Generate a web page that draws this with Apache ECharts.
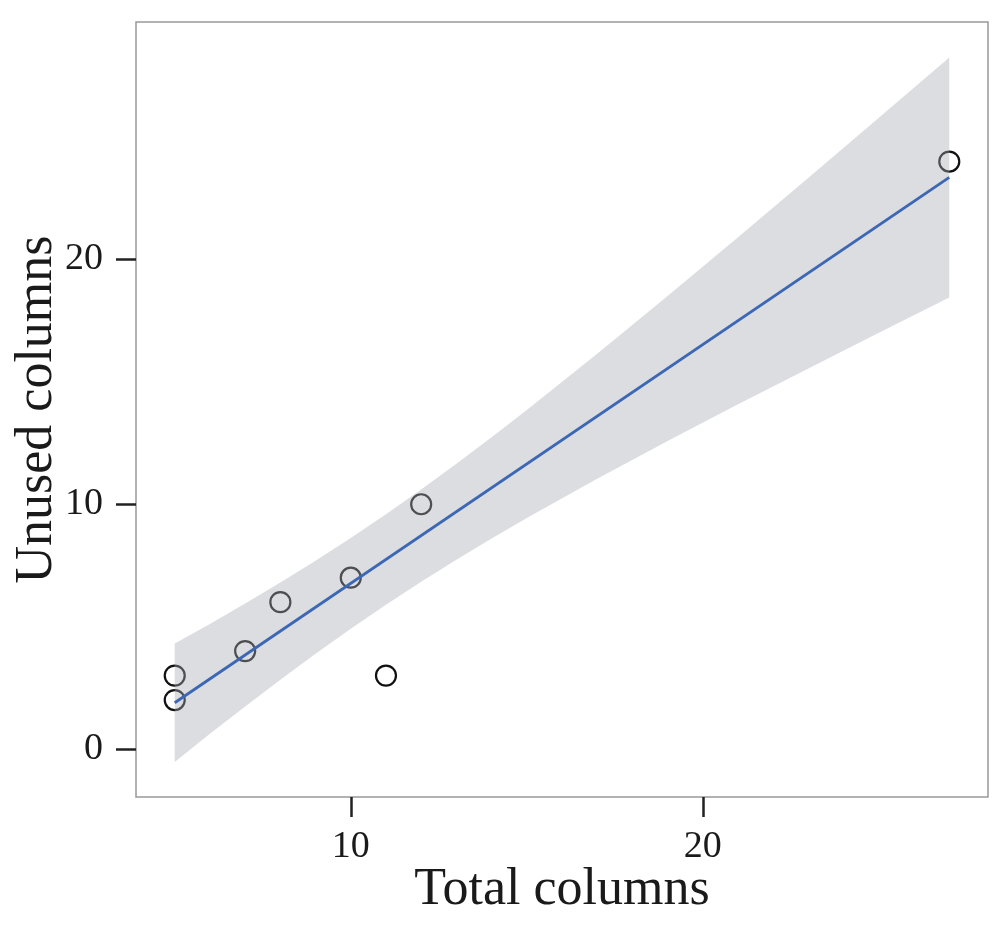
<!DOCTYPE html>
<html>
<head>
<meta charset="utf-8">
<script src="https://cdn.jsdelivr.net/npm/echarts@6/dist/echarts.min.js"></script>
<style>
  html, body { margin: 0; padding: 0; background: #fff; }
  #main { width: 1000px; height: 926px; }
</style>
</head>
<body>
<div id="main"></div>
<script>
// observed points
const totalCols = [5, 5, 7, 8, 10, 11, 12, 27];
const unusedCols = [3, 2, 4, 6, 7, 3, 10, 24];

// fitted line, read at its two ends
const fitX = [5, 27];
const fitY = [1.89, 23.35];

// confidence band
const bandX = [5, 6, 7, 8, 9, 10, 11, 12, 13, 14, 15, 17, 19, 21, 23, 25, 27];
const bandLow = [-0.53, 0.62, 1.74, 2.83, 3.89, 4.91, 5.89, 6.83, 7.73, 8.60, 9.44, 11.04, 12.58, 14.08, 15.55, 17.01, 18.45];
const bandHigh = [4.31, 5.11, 5.94, 6.80, 7.69, 8.62, 9.59, 10.60, 11.65, 12.74, 13.85, 16.15, 18.51, 20.91, 23.34, 25.79, 28.25];

const xTicks = [10, 20];
const yTicks = [0, 10, 20];

const FONT = 'Liberation Serif';
const myChart = echarts.init(document.getElementById('main'));

const bandData = bandX.map((x, i) => [x, bandLow[i], bandHigh[i]]);

const option = {
    animation: false,
    backgroundColor: '#fff',
    grid: {
        left: 136, right: 12, top: 22, bottom: 129,
        outerBoundsMode: 'none',
        containLabel: false,
        show: true,
        borderColor: '#999',
        borderWidth: 1.5,
        backgroundColor: 'transparent'
    },
    xAxis: {
        type: 'value',
        min: 3.9,
        max: 28.1,
        name: 'Total columns',
        nameLocation: 'middle',
        nameGap: 67,
        nameMoveOverlap: false,
        nameTextStyle: {fontFamily: FONT, fontSize: 52, color: '#1a1a1a'},
        axisLine: {show: false, onZero: false},
        splitLine: {show: false},
        axisTick: {show: true, length: 20, customValues: xTicks, lineStyle: {color: '#222', width: 2.5}},
        axisLabel: {customValues: xTicks, margin: 31, fontFamily: FONT, fontSize: 38, color: '#1a1a1a'}
    },
    yAxis: {
        type: 'value',
        min: -1.96,
        max: 29.7,
        name: 'Unused columns',
        nameLocation: 'middle',
        nameGap: 73,
        nameMoveOverlap: false,
        nameTextStyle: {fontFamily: FONT, fontSize: 52, color: '#1a1a1a'},
        axisLine: {show: false, onZero: false},
        splitLine: {show: false},
        axisTick: {show: true, length: 20, customValues: yTicks, lineStyle: {color: '#222', width: 2.5}},
        axisLabel: {customValues: yTicks, margin: 33, fontFamily: FONT, fontSize: 38, color: '#1a1a1a'}
    },
    series: [
        {
            type: 'scatter',
            data: totalCols.map((x, i) => [x, unusedCols[i]]),
            symbol: 'circle',
            symbolSize: 20,
            itemStyle: {color: 'transparent', borderColor: '#111', borderWidth: 2.2, opacity: 1},
            silent: true,
            z: 2
        },
        {
            type: 'custom',
            data: bandData,
            encode: {x: 0, y: [1, 2]},
            silent: true,
            z: 3,
            renderItem: (params, api) => {
                if (params.dataIndex !== 0) return null;
                const pts = [];
                for (let i = 0; i < bandData.length; i++) {
                    pts.push(api.coord([bandData[i][0], bandData[i][2]]));
                }
                for (let i = bandData.length - 1; i >= 0; i--) {
                    pts.push(api.coord([bandData[i][0], bandData[i][1]]));
                }
                return {
                    type: 'polygon',
                    shape: {points: pts},
                    style: {fill: 'rgba(168,170,178,0.4)'}
                };
            }
        },
        {
            type: 'line',
            data: fitX.map((x, i) => [x, fitY[i]]),
            showSymbol: false,
            lineStyle: {color: '#3b67b5', width: 2.8},
            silent: true,
            z: 4
        }
    ]
};

option && myChart.setOption(option);
</script>
</body>
</html>
